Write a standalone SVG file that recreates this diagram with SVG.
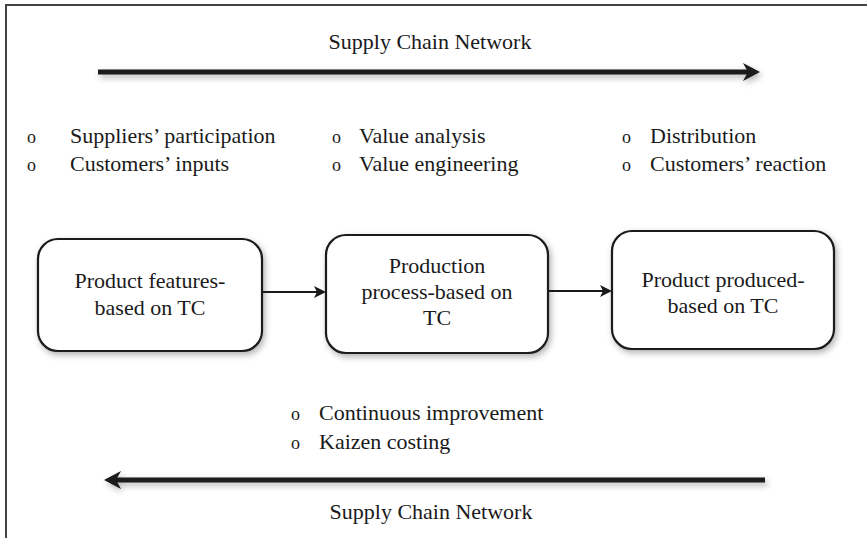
<svg xmlns="http://www.w3.org/2000/svg" width="867" height="538" viewBox="0 0 867 538">
<defs>
<filter id="sh" x="-20%" y="-20%" width="140%" height="150%">
<feDropShadow dx="2" dy="3" stdDeviation="3" flood-color="#000" flood-opacity="0.3"/>
</filter>
</defs>
<rect width="867" height="538" fill="#fff"/>
<path d="M6,538 V5 H867" fill="none" stroke="#444" stroke-width="2"/>

<g id="title-top"><text font-family="Liberation Serif" font-size="22" fill="#1a1a1a" text-anchor="middle" x="430" y="49">Supply Chain Network</text></g>

<g id="bullets-1">
<text font-family="Liberation Serif" font-size="18" fill="#1a1a1a" x="27" y="143">o</text><text font-family="Liberation Serif" font-size="22" fill="#1a1a1a" x="70" y="143">Suppliers’ participation</text>
<text font-family="Liberation Serif" font-size="18" fill="#1a1a1a" x="27" y="171">o</text><text font-family="Liberation Serif" font-size="22" fill="#1a1a1a" x="70" y="171">Customers’ inputs</text>
</g>
<g id="bullets-2">
<text font-family="Liberation Serif" font-size="18" fill="#1a1a1a" x="332" y="143">o</text><text font-family="Liberation Serif" font-size="22" fill="#1a1a1a" x="359" y="143">Value analysis</text>
<text font-family="Liberation Serif" font-size="18" fill="#1a1a1a" x="332" y="171">o</text><text font-family="Liberation Serif" font-size="22" fill="#1a1a1a" x="359" y="171">Value engineering</text>
</g>
<g id="bullets-3">
<text font-family="Liberation Serif" font-size="18" fill="#1a1a1a" x="622" y="143">o</text><text font-family="Liberation Serif" font-size="22" fill="#1a1a1a" x="650" y="143">Distribution</text>
<text font-family="Liberation Serif" font-size="18" fill="#1a1a1a" x="622" y="171">o</text><text font-family="Liberation Serif" font-size="22" fill="#1a1a1a" x="650" y="171">Customers’ reaction</text>
</g>

<g id="node-features">
<rect x="38" y="239" width="224" height="112" rx="20" fill="#fff" stroke="#1a1a1a" stroke-width="2.2" filter="url(#sh)"/>
<text font-family="Liberation Serif" font-size="22" fill="#1a1a1a" text-anchor="middle" x="150" y="288">Product features-</text>
<text font-family="Liberation Serif" font-size="22" fill="#1a1a1a" text-anchor="middle" x="150" y="315">based on TC</text>
</g>
<g id="node-process">
<rect x="326" y="235" width="222" height="118" rx="20" fill="#fff" stroke="#1a1a1a" stroke-width="2.2" filter="url(#sh)"/>
<text font-family="Liberation Serif" font-size="22" fill="#1a1a1a" text-anchor="middle" x="437" y="273">Production</text>
<text font-family="Liberation Serif" font-size="22" fill="#1a1a1a" text-anchor="middle" x="437" y="299">process-based on</text>
<text font-family="Liberation Serif" font-size="22" fill="#1a1a1a" text-anchor="middle" x="437" y="325">TC</text>
</g>
<g id="node-produced">
<rect x="612" y="231" width="222" height="118" rx="20" fill="#fff" stroke="#1a1a1a" stroke-width="2.2" filter="url(#sh)"/>
<text font-family="Liberation Serif" font-size="22" fill="#1a1a1a" text-anchor="middle" x="723" y="287">Product produced-</text>
<text font-family="Liberation Serif" font-size="22" fill="#1a1a1a" text-anchor="middle" x="723" y="313">based on TC</text>
</g>

<g id="bullets-bottom">
<text font-family="Liberation Serif" font-size="18" fill="#1a1a1a" x="291" y="420">o</text><text font-family="Liberation Serif" font-size="22" fill="#1a1a1a" x="319" y="420">Continuous improvement</text>
<text font-family="Liberation Serif" font-size="18" fill="#1a1a1a" x="291" y="449">o</text><text font-family="Liberation Serif" font-size="22" fill="#1a1a1a" x="319" y="449">Kaizen costing</text>
</g>

<g id="title-bottom"><text font-family="Liberation Serif" font-size="22" fill="#1a1a1a" text-anchor="middle" x="431" y="519">Supply Chain Network</text></g>

<g id="connectors">
<g filter="url(#sh)">
<line x1="98" y1="72" x2="748" y2="72" stroke="#1a1a1a" stroke-width="5"/>
<path d="M760,72 L743,63 L748,72 L743,81 Z" fill="#1a1a1a"/>
<line x1="765" y1="480" x2="116" y2="480" stroke="#1a1a1a" stroke-width="5"/>
<path d="M104,480 L121,471 L116,480 L121,489 Z" fill="#1a1a1a"/>
</g>
<line x1="263" y1="292" x2="318" y2="292" stroke="#1a1a1a" stroke-width="2"/>
<path d="M326,292 L314,286 L317,292 L314,298 Z" fill="#1a1a1a"/>
<line x1="549" y1="291" x2="604" y2="291" stroke="#1a1a1a" stroke-width="2"/>
<path d="M612,291 L600,285 L603,291 L600,297 Z" fill="#1a1a1a"/>
</g>
</svg>
